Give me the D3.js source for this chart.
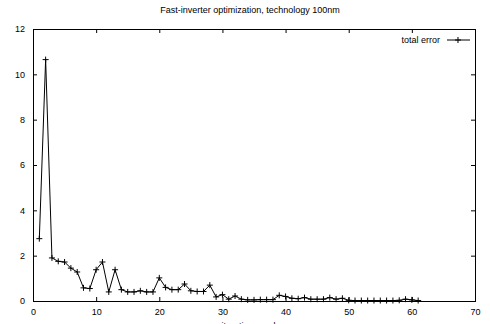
<html lang="en">
<head>
  <meta charset="UTF-8"/>
  <title>Fast-inverter optimization</title>
  <script src="https://d3js.org/d3.v7.min.js"></script>
</head>
<style>
body {
  margin: 0;
  background: #fff;
  font-family: 'Liberation Sans', Arial, sans-serif;
}

svg {
  display: block;
}

text {
  font-size: 9px;
  fill: #000;
}

.frame {
  fill: none;
  stroke: #000;
  stroke-width: 1;
}

.tick line {
  stroke: #000;
}

.series {
  fill: none;
  stroke: #000;
  stroke-width: 1;
}
</style>
<body>
  <svg width="490" height="324"></svg>
<script>
    const iterations = d3.range(1, 62);
    const totalError = [
      2.75, 10.65, 1.9, 1.75, 1.72, 1.45, 1.28, 0.58, 0.55, 1.38,
      1.72, 0.4, 1.38, 0.5, 0.4, 0.4, 0.45, 0.4, 0.4, 1.02,
      0.6, 0.5, 0.5, 0.75, 0.45, 0.42, 0.42, 0.7, 0.18, 0.28,
      0.08, 0.22, 0.08, 0.05, 0.05, 0.06, 0.06, 0.06, 0.25, 0.2,
      0.12, 0.1, 0.15, 0.08, 0.08, 0.08, 0.15, 0.08, 0.12, 0.03,
      0.02, 0.02, 0.02, 0.02, 0.02, 0.02, 0.02, 0.03, 0.08, 0.05,
      0.02
    ];
    const xTicks = [0, 10, 20, 30, 40, 50, 60, 70];
    const yTicks = [0, 2, 4, 6, 8, 10, 12];

    const svg = d3.select('svg');
    const plotLeft = 33, plotRight = 475, plotTop = 29, plotBottom = 301;

    const x = d3.scaleLinear().domain([0, 70]).range([plotLeft, plotRight]);
    const y = d3.scaleLinear().domain([0, 12]).range([plotBottom, plotTop]);

    // ticks point inwards on all four sides, gnuplot style
    svg.append('g')
      .attr('transform', `translate(0,${plotBottom})`)
      .call(d3.axisBottom(x).tickValues(xTicks).tickSize(-4).tickPadding(8))
      .call(g => g.select('.domain').remove())
      .selectAll('text').attr('font-size', 9).attr('font-family', 'Liberation Sans, Arial');

    svg.append('g')
      .attr('transform', `translate(0,${plotTop})`)
      .call(d3.axisTop(x).tickValues(xTicks.slice(1, -1)).tickSize(-4).tickFormat(''))
      .call(g => g.select('.domain').remove());

    svg.append('g')
      .attr('transform', `translate(${plotLeft},0)`)
      .call(d3.axisLeft(y).tickValues(yTicks).tickSize(-4).tickPadding(8))
      .call(g => g.select('.domain').remove())
      .selectAll('text').attr('font-size', 9).attr('font-family', 'Liberation Sans, Arial');

    svg.append('g')
      .attr('transform', `translate(${plotRight},0)`)
      .call(d3.axisRight(y).tickValues(yTicks.slice(1, -1)).tickSize(-4).tickFormat(''))
      .call(g => g.select('.domain').remove());

    svg.append('rect')
      .attr('class', 'frame')
      .attr('x', plotLeft + 0.5)
      .attr('y', plotTop + 0.5)
      .attr('width', plotRight - plotLeft)
      .attr('height', plotBottom - plotTop);

    const data = iterations.map((it, i) => ({ it: it, v: totalError[i] }));

    const line = d3.line()
      .x(d => x(d.it))
      .y(d => y(d.v));

    svg.append('path')
      .datum(data)
      .attr('class', 'series')
      .attr('d', line);

    const cross = (cx, cy) => `M${cx - 3},${cy}H${cx + 3}M${cx},${cy - 3}V${cy + 3}`;

    svg.append('path')
      .attr('class', 'series')
      .attr('d', data.map(d => cross(x(d.it), y(d.v))).join(''));

    // legend
    svg.append('text')
      .attr('x', 440)
      .attr('y', 43)
      .attr('text-anchor', 'end')
      .text('total error');

    svg.append('path')
      .attr('class', 'series')
      .attr('d', `M447,40H470` + cross(458, 40));

    svg.append('text')
      .attr('x', 250)
      .attr('y', 13)
      .attr('text-anchor', 'middle')
      .attr('font-size', 8)
      .text('Fast-inverter optimization, technology 100nm');

    svg.append('text')
      .attr('x', 254)
      .attr('y', 329)
      .attr('text-anchor', 'middle')
      .text('iteration number');
</script>
</body>
</html>
